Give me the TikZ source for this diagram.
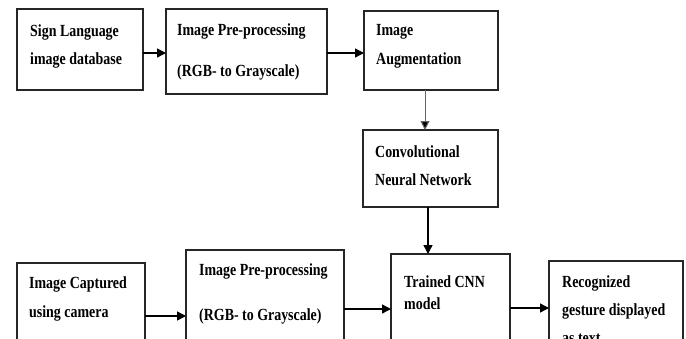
\documentclass[tikz,border=0pt]{standalone}
\usepackage{fontspec}
\setmainfont{Liberation Serif}[FakeStretch=0.82]
\usetikzlibrary{arrows.meta}
\tikzset{
  box/.style={draw=black!85, line width=1.6pt, anchor=north west, inner sep=0pt, outer sep=0pt},
  lbl/.style={anchor=base west, inner sep=0pt, font=\fontsize{17}{19}\selectfont\bfseries},
  arr/.style={line width=1.4pt, -{Triangle[length=9pt,width=9pt]}},
  arrg/.style={line width=1pt, draw=black!60, -{Triangle[length=9pt,width=9pt,fill=black]}}
}
\begin{document}
\begin{tikzpicture}[x=1pt,y=-1pt]
\useasboundingbox (0,0) rectangle (686,338);
\clip (0,0) rectangle (686,338);
% boxes
\node[box, minimum width=126, minimum height=81] (b1) at (17,9) {};
\node[box, minimum width=161, minimum height=85] (b2) at (166,9) {};
\node[box, minimum width=134, minimum height=79] (b3) at (364,11) {};
\node[box, minimum width=135, minimum height=77] (b4) at (363,130) {};
\node[box, minimum width=128, minimum height=110] (c1) at (17,263) {};
\node[box, minimum width=158, minimum height=120] (c2) at (186,250) {};
\node[box, minimum width=119, minimum height=120] (c3) at (391,254) {};
\node[box, minimum width=134, minimum height=110] (c4) at (549,261) {};
% texts
\node[lbl] (t1a) at (30,36) {Sign Language};
\node[lbl] (t1b) at (30,64) {image database};
\node[lbl] (t2a) at (177,35) {Image Pre-processing};
\node[lbl] (t2b) at (177,76) {(RGB- to Grayscale)};
\node[lbl] (t3a) at (376,35) {Image};
\node[lbl] (t3b) at (376,64) {Augmentation};
\node[lbl] (t4a) at (375,157) {Convolutional};
\node[lbl] (t4b) at (375,185) {Neural Network};
\node[lbl] (u1a) at (29,288) {Image Captured};
\node[lbl] (u1b) at (29,317) {using camera};
\node[lbl] (u2a) at (199,275) {Image Pre-processing};
\node[lbl] (u2b) at (199,320) {(RGB- to Grayscale)};
\node[lbl] (u3a) at (404,287) {Trained CNN};
\node[lbl] (u3b) at (404,309) {model};
\node[lbl] (u4a) at (562,287) {Recognized};
\node[lbl] (u4b) at (562,315) {gesture displayed};
\node[lbl] (u4c) at (562,343) {as text};
% connectors
\draw[arr] (b1.east |- 0,53) -- (b2.west |- 0,53);
\draw[arr] (b2.east |- 0,53) -- (b3.west |- 0,53);
\draw[arrg] (b3.south -| 425,0) -- (b4.north -| 425,0);
\draw[arr] (b4.south -| 428,0) -- (c3.north -| 428,0);
\draw[arr] (c1.east |- 0,316) -- (c2.west |- 0,316);
\draw[arr] (c2.east |- 0,309) -- (c3.west |- 0,309);
\draw[arr] (c3.east |- 0,308) -- (c4.west |- 0,308);
\end{tikzpicture}
\end{document}
